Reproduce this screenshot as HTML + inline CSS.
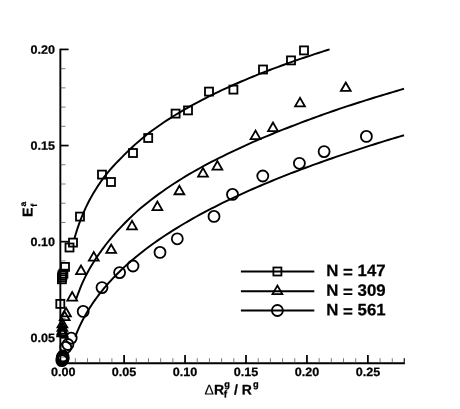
<!DOCTYPE html>
<html><head><meta charset="utf-8"><title>chart</title>
<style>
html,body{margin:0;padding:0;background:#fff;}
body{width:460px;height:409px;overflow:hidden;}
svg{display:block;filter:grayscale(1);}
text{font-family:"Liberation Sans",sans-serif;font-weight:bold;fill:#000;stroke:#000;stroke-width:0.25px;stroke-linejoin:round;}
</style></head><body>
<svg width="460" height="409" viewBox="0 0 460 409">
<rect width="460" height="409" fill="#fff"/>
<g stroke="#000" fill="none">
<line x1="60.35" y1="48.7" x2="60.35" y2="364.05" stroke-width="1.9"/>
<line x1="59.550000000000004" y1="363.25" x2="404.9" y2="363.25" stroke-width="1.85"/>
<line x1="404.3" y1="363.25" x2="404.3" y2="358.2" stroke-width="1.2"/>
<line x1="60.35" y1="49.42" x2="68.6" y2="49.42" stroke-width="1.7"/>
<line x1="60.35" y1="68.65" x2="65.5" y2="68.65" stroke-width="0.7" stroke="#444"/>
<line x1="60.35" y1="87.87" x2="65.5" y2="87.87" stroke-width="0.7" stroke="#444"/>
<line x1="60.35" y1="107.09" x2="65.5" y2="107.09" stroke-width="0.7" stroke="#444"/>
<line x1="60.35" y1="126.32" x2="65.5" y2="126.32" stroke-width="0.7" stroke="#444"/>
<line x1="60.35" y1="145.55" x2="68.6" y2="145.55" stroke-width="1.7"/>
<line x1="60.35" y1="164.77" x2="65.5" y2="164.77" stroke-width="0.7" stroke="#444"/>
<line x1="60.35" y1="184.00" x2="65.5" y2="184.00" stroke-width="0.7" stroke="#444"/>
<line x1="60.35" y1="203.22" x2="65.5" y2="203.22" stroke-width="0.7" stroke="#444"/>
<line x1="60.35" y1="222.44" x2="65.5" y2="222.44" stroke-width="0.7" stroke="#444"/>
<line x1="60.35" y1="241.67" x2="68.6" y2="241.67" stroke-width="1.7"/>
<line x1="60.35" y1="260.90" x2="65.5" y2="260.90" stroke-width="0.7" stroke="#444"/>
<line x1="60.35" y1="280.12" x2="65.5" y2="280.12" stroke-width="0.7" stroke="#444"/>
<line x1="60.35" y1="299.35" x2="65.5" y2="299.35" stroke-width="0.7" stroke="#444"/>
<line x1="60.35" y1="318.57" x2="65.5" y2="318.57" stroke-width="0.7" stroke="#444"/>
<line x1="60.35" y1="337.80" x2="68.6" y2="337.80" stroke-width="1.7"/>
<line x1="60.35" y1="357.02" x2="65.5" y2="357.02" stroke-width="0.7" stroke="#444"/>
<line x1="75.34" y1="363.25" x2="75.34" y2="358.2" stroke-width="0.7" stroke="#444"/>
<line x1="87.53" y1="363.25" x2="87.53" y2="358.2" stroke-width="0.7" stroke="#444"/>
<line x1="99.72" y1="363.25" x2="99.72" y2="358.2" stroke-width="0.7" stroke="#444"/>
<line x1="111.91" y1="363.25" x2="111.91" y2="358.2" stroke-width="0.7" stroke="#444"/>
<line x1="124.10" y1="363.25" x2="124.10" y2="355" stroke-width="1.75"/>
<line x1="136.29" y1="363.25" x2="136.29" y2="358.2" stroke-width="0.7" stroke="#444"/>
<line x1="148.48" y1="363.25" x2="148.48" y2="358.2" stroke-width="0.7" stroke="#444"/>
<line x1="160.67" y1="363.25" x2="160.67" y2="358.2" stroke-width="0.7" stroke="#444"/>
<line x1="172.86" y1="363.25" x2="172.86" y2="358.2" stroke-width="0.7" stroke="#444"/>
<line x1="185.05" y1="363.25" x2="185.05" y2="355" stroke-width="1.75"/>
<line x1="197.24" y1="363.25" x2="197.24" y2="358.2" stroke-width="0.7" stroke="#444"/>
<line x1="209.43" y1="363.25" x2="209.43" y2="358.2" stroke-width="0.7" stroke="#444"/>
<line x1="221.62" y1="363.25" x2="221.62" y2="358.2" stroke-width="0.7" stroke="#444"/>
<line x1="233.81" y1="363.25" x2="233.81" y2="358.2" stroke-width="0.7" stroke="#444"/>
<line x1="246.00" y1="363.25" x2="246.00" y2="355" stroke-width="1.75"/>
<line x1="258.19" y1="363.25" x2="258.19" y2="358.2" stroke-width="0.7" stroke="#444"/>
<line x1="270.38" y1="363.25" x2="270.38" y2="358.2" stroke-width="0.7" stroke="#444"/>
<line x1="282.57" y1="363.25" x2="282.57" y2="358.2" stroke-width="0.7" stroke="#444"/>
<line x1="294.76" y1="363.25" x2="294.76" y2="358.2" stroke-width="0.7" stroke="#444"/>
<line x1="306.95" y1="363.25" x2="306.95" y2="355" stroke-width="1.75"/>
<line x1="319.14" y1="363.25" x2="319.14" y2="358.2" stroke-width="0.7" stroke="#444"/>
<line x1="331.33" y1="363.25" x2="331.33" y2="358.2" stroke-width="0.7" stroke="#444"/>
<line x1="343.52" y1="363.25" x2="343.52" y2="358.2" stroke-width="0.7" stroke="#444"/>
<line x1="355.71" y1="363.25" x2="355.71" y2="358.2" stroke-width="0.7" stroke="#444"/>
<line x1="367.90" y1="363.25" x2="367.90" y2="355" stroke-width="1.75"/>
<line x1="380.09" y1="363.25" x2="380.09" y2="358.2" stroke-width="0.7" stroke="#444"/>
<line x1="392.28" y1="363.25" x2="392.28" y2="358.2" stroke-width="0.7" stroke="#444"/>
<line x1="404.47" y1="363.25" x2="404.47" y2="358.2" stroke-width="0.7" stroke="#444"/>
</g>
<g stroke="#000" fill="none" stroke-width="1.95" stroke-linecap="butt" stroke-linejoin="round">
<path d="M74.45,238.52 L75.22,235.80 L75.99,233.21 L76.76,230.73 L77.53,228.36 L78.30,226.09 L79.07,223.90 L79.83,221.80 L80.60,219.77 L81.37,217.80 L82.14,215.90 L82.91,214.06 L83.68,212.27 L84.45,210.53 L85.22,208.84 L85.99,207.20 L86.76,205.60 L87.53,204.04 L88.30,202.51 L89.07,201.02 L89.83,199.57 L90.60,198.14 L91.37,196.75 L92.14,195.39 L92.91,194.05 L93.68,192.75 L94.45,191.46 L95.22,190.20 L95.99,188.97 L96.76,187.75 L97.53,186.56 L98.30,185.39 L99.07,184.23 L99.83,183.10 L100.60,181.99 L101.37,180.89 L102.14,179.81 L102.91,178.74 L103.68,177.70 L104.45,176.66 L107.30,173.08 L110.15,169.72 L113.00,166.51 L115.85,163.45 L118.70,160.52 L121.55,157.59 L124.40,154.66 L127.25,151.84 L130.10,149.10 L132.95,146.46 L135.80,143.89 L138.65,141.40 L141.50,138.98 L144.35,136.63 L147.20,134.34 L150.05,132.10 L152.90,130.00 L155.75,127.94 L158.60,125.94 L161.45,123.98 L164.30,122.06 L167.15,120.19 L170.00,118.35 L172.85,116.55 L175.70,114.79 L178.55,113.06 L181.40,111.37 L184.25,109.71 L187.10,108.08 L189.95,106.47 L192.80,104.90 L195.65,103.35 L198.50,101.82 L201.35,100.32 L204.20,98.85 L207.05,97.40 L209.90,95.97 L212.75,94.56 L215.60,93.17 L218.45,91.80 L221.30,90.46 L224.15,89.13 L227.00,87.82 L229.85,86.52 L232.70,85.25 L235.55,83.99 L238.40,82.74 L241.25,81.51 L244.10,80.30 L246.95,79.10 L249.80,77.92 L252.65,76.75 L255.50,75.59 L258.35,74.45 L261.20,73.32 L264.05,72.20 L266.90,71.10 L269.75,70.00 L272.60,68.92 L275.45,67.85 L278.30,66.79 L281.15,65.75 L284.00,64.71 L286.85,63.68 L289.70,62.66 L292.55,61.66 L295.40,60.66 L298.25,59.67 L301.10,58.69 L303.95,57.72 L306.80,56.76 L309.65,55.81 L312.50,54.87 L315.35,53.93 L318.20,53.00 L321.05,52.08 L323.90,51.17 L326.75,50.27 L329.60,49.37"/>
<path d="M76.30,298.79 L77.07,296.53 L77.84,294.37 L78.61,292.29 L79.38,290.28 L80.15,288.35 L80.92,286.47 L81.68,284.65 L82.45,282.90 L83.22,281.21 L83.99,279.56 L84.76,277.95 L85.53,276.39 L86.30,274.87 L87.07,273.38 L87.84,271.93 L88.61,270.52 L89.38,269.13 L90.15,267.78 L90.92,266.46 L91.68,265.16 L92.45,263.90 L93.22,262.65 L93.99,261.44 L94.76,260.24 L95.53,259.07 L96.30,257.91 L97.07,256.78 L97.84,255.67 L98.61,254.57 L99.38,253.49 L100.15,252.42 L100.92,251.32 L101.68,250.24 L102.45,249.17 L103.22,248.11 L103.99,247.07 L104.76,246.05 L105.53,245.03 L106.30,244.03 L110.07,239.32 L113.84,234.86 L117.61,230.64 L121.37,226.60 L125.14,222.70 L128.91,218.96 L132.68,215.36 L136.45,211.90 L140.22,208.58 L143.98,205.44 L147.75,202.41 L151.52,199.47 L155.29,196.63 L159.06,193.87 L162.83,191.18 L166.59,188.57 L170.36,186.02 L174.13,183.54 L177.90,181.12 L181.67,178.76 L185.44,176.45 L189.20,174.19 L192.97,172.00 L196.74,169.86 L200.51,167.76 L204.28,165.71 L208.05,163.70 L211.81,161.72 L215.58,159.78 L219.35,157.88 L223.12,156.01 L226.89,154.17 L230.66,152.36 L234.42,150.56 L238.19,148.79 L241.96,147.05 L245.73,145.34 L249.50,143.65 L253.27,141.98 L257.03,140.34 L260.80,138.72 L264.57,137.13 L268.34,135.55 L272.11,134.00 L275.88,132.47 L279.64,130.95 L283.41,129.46 L287.18,127.98 L290.95,126.52 L294.72,125.06 L298.49,123.61 L302.25,122.18 L306.02,120.77 L309.79,119.37 L313.56,117.98 L317.33,116.62 L321.10,115.26 L324.86,113.92 L328.63,112.60 L332.40,111.28 L336.17,109.98 L339.94,108.70 L343.71,107.44 L347.47,106.19 L351.24,104.96 L355.01,103.74 L358.78,102.53 L362.55,101.33 L366.32,100.14 L370.08,98.96 L373.85,97.79 L377.62,96.63 L381.39,95.49 L385.16,94.35 L388.93,93.22 L392.69,92.10 L396.46,90.99 L400.23,89.89 L404.00,88.80"/>
<path d="M75.30,336.54 L76.07,334.57 L76.84,332.67 L77.61,330.83 L78.38,329.06 L79.15,327.35 L79.92,325.69 L80.68,324.09 L81.45,322.52 L82.22,321.00 L82.99,319.52 L83.76,318.08 L84.53,316.67 L85.30,315.29 L86.07,313.94 L86.84,312.61 L87.61,311.31 L88.38,310.04 L89.15,308.79 L89.92,307.57 L90.68,306.37 L91.45,305.19 L92.22,304.04 L92.99,302.90 L93.76,301.78 L94.53,300.68 L95.30,299.60 L96.07,298.54 L96.84,297.49 L97.61,296.46 L98.38,295.44 L99.15,294.43 L99.92,293.44 L100.68,292.46 L101.45,291.49 L102.22,290.53 L102.99,289.58 L103.76,288.65 L104.53,287.72 L105.30,286.81 L109.08,282.48 L112.86,278.37 L116.64,274.46 L120.42,270.73 L124.21,267.16 L127.99,263.73 L131.77,260.43 L135.55,257.24 L139.33,254.17 L143.11,251.19 L146.89,248.30 L150.67,245.50 L154.45,242.77 L158.23,240.12 L162.02,237.54 L165.80,235.02 L169.58,232.56 L173.36,230.15 L177.14,227.80 L180.92,225.50 L184.70,223.25 L188.48,221.05 L192.26,218.89 L196.04,216.76 L199.83,214.68 L203.61,212.65 L207.39,210.65 L211.17,208.69 L214.95,206.76 L218.73,204.86 L222.51,202.99 L226.29,201.15 L230.07,199.34 L233.85,197.55 L237.64,195.79 L241.42,194.06 L245.20,192.35 L248.98,190.67 L252.76,189.00 L256.54,187.36 L260.32,185.74 L264.10,184.14 L267.88,182.56 L271.66,181.00 L275.45,179.45 L279.23,177.93 L283.01,176.42 L286.79,174.93 L290.57,173.46 L294.35,172.00 L298.13,170.56 L301.91,169.13 L305.69,167.72 L309.47,166.32 L313.26,164.94 L317.04,163.57 L320.82,162.21 L324.60,160.87 L328.38,159.54 L332.16,158.23 L335.94,156.92 L339.72,155.63 L343.50,154.35 L347.28,153.08 L351.07,151.82 L354.85,150.57 L358.63,149.33 L362.41,148.10 L366.19,146.88 L369.97,145.68 L373.75,144.48 L377.53,143.29 L381.31,142.11 L385.09,140.94 L388.88,139.78 L392.66,138.63 L396.44,137.49 L400.22,136.35 L404.00,135.23"/>
</g>
<g stroke="#000" fill="none" stroke-width="1.95">
<line x1="240.9" y1="271.5" x2="314.3" y2="271.5"/>
<line x1="240.9" y1="291.2" x2="314.3" y2="291.2"/>
<line x1="240.9" y1="310.5" x2="314.3" y2="310.5"/>
</g>
<g stroke="#000" fill="none" stroke-width="1.8" stroke-linejoin="miter">
<rect x="300.00" y="46.40" width="8.0" height="8.0"/>
<rect x="287.00" y="56.40" width="8.0" height="8.0"/>
<rect x="259.00" y="65.50" width="8.0" height="8.0"/>
<rect x="229.40" y="85.60" width="8.0" height="8.0"/>
<rect x="205.00" y="87.60" width="8.0" height="8.0"/>
<rect x="184.00" y="106.40" width="8.0" height="8.0"/>
<rect x="171.60" y="109.60" width="8.0" height="8.0"/>
<rect x="144.20" y="134.00" width="8.0" height="8.0"/>
<rect x="129.00" y="149.00" width="8.0" height="8.0"/>
<rect x="107.00" y="178.00" width="8.0" height="8.0"/>
<rect x="98.00" y="170.60" width="8.0" height="8.0"/>
<rect x="76.00" y="212.60" width="8.0" height="8.0"/>
<rect x="69.00" y="238.60" width="8.0" height="8.0"/>
<rect x="65.50" y="243.50" width="8.0" height="8.0"/>
<rect x="61.00" y="262.90" width="8.0" height="8.0"/>
<rect x="59.40" y="269.70" width="8.0" height="8.0"/>
<rect x="58.40" y="271.30" width="8.0" height="8.0"/>
<rect x="58.00" y="273.30" width="8.0" height="8.0"/>
<rect x="57.90" y="275.30" width="8.0" height="8.0"/>
<rect x="56.30" y="299.90" width="8.0" height="8.0"/>
<rect x="273.40" y="267.50" width="8.0" height="8.0"/>
<polygon points="345.80,82.45 340.90,90.95 350.70,90.95"/>
<polygon points="300.00,97.85 295.10,106.35 304.90,106.35"/>
<polygon points="273.00,122.55 268.10,131.05 277.90,131.05"/>
<polygon points="255.50,130.65 250.60,139.15 260.40,139.15"/>
<polygon points="217.40,161.05 212.50,169.55 222.30,169.55"/>
<polygon points="203.00,168.05 198.10,176.55 207.90,176.55"/>
<polygon points="179.40,185.75 174.50,194.25 184.30,194.25"/>
<polygon points="157.40,201.55 152.50,210.05 162.30,210.05"/>
<polygon points="132.00,220.85 127.10,229.35 136.90,229.35"/>
<polygon points="111.20,244.45 106.30,252.95 116.10,252.95"/>
<polygon points="93.80,252.05 88.90,260.55 98.70,260.55"/>
<polygon points="81.00,265.55 76.10,274.05 85.90,274.05"/>
<polygon points="72.20,292.05 67.30,300.55 77.10,300.55"/>
<polygon points="66.00,307.85 61.10,316.35 70.90,316.35"/>
<polygon points="64.70,311.65 59.80,320.15 69.60,320.15"/>
<polygon points="62.40,318.95 57.50,327.45 67.30,327.45"/>
<polygon points="62.40,322.35 57.50,330.85 67.30,330.85"/>
<polygon points="62.40,325.25 57.50,333.75 67.30,333.75"/>
<polygon points="62.30,327.05 57.40,335.55 67.20,335.55"/>
<polygon points="62.40,327.75 57.50,336.25 67.30,336.25"/>
<polygon points="277.40,285.65 272.50,294.15 282.30,294.15"/>
<circle cx="366.40" cy="136.40" r="5.5"/>
<circle cx="324.10" cy="151.60" r="5.5"/>
<circle cx="299.40" cy="163.30" r="5.5"/>
<circle cx="262.80" cy="176.00" r="5.5"/>
<circle cx="232.50" cy="194.40" r="5.5"/>
<circle cx="214.00" cy="216.40" r="5.5"/>
<circle cx="177.30" cy="238.80" r="5.5"/>
<circle cx="160.00" cy="252.40" r="5.5"/>
<circle cx="133.00" cy="266.00" r="5.5"/>
<circle cx="119.60" cy="272.60" r="5.5"/>
<circle cx="102.00" cy="287.60" r="5.5"/>
<circle cx="83.20" cy="311.40" r="5.5"/>
<circle cx="71.20" cy="338.10" r="5.5"/>
<circle cx="67.90" cy="344.50" r="5.5"/>
<circle cx="65.80" cy="347.40" r="5.5"/>
<circle cx="62.90" cy="356.00" r="5.5"/>
<circle cx="62.50" cy="357.20" r="5.5"/>
<circle cx="63.30" cy="357.80" r="5.5"/>
<circle cx="62.00" cy="358.60" r="5.5"/>
<circle cx="62.90" cy="359.40" r="5.5"/>
<circle cx="61.80" cy="360.60" r="5.5"/>
<circle cx="277.40" cy="310.50" r="5.5"/>
</g>
<g font-size="12.1px">
<text transform="translate(54.95,53.72) rotate(0.03) scale(1.04,1)" text-anchor="end">0.20</text>
<text transform="translate(54.95,149.85) rotate(0.03) scale(1.04,1)" text-anchor="end">0.15</text>
<text transform="translate(54.95,245.97) rotate(0.03) scale(1.04,1)" text-anchor="end">0.10</text>
<text transform="translate(54.95,342.10) rotate(0.03) scale(1.04,1)" text-anchor="end">0.05</text>
<text transform="translate(63.15,376.05) rotate(0.03) scale(1.04,1)" text-anchor="middle">0.00</text>
<text transform="translate(124.10,376.05) rotate(0.03) scale(1.04,1)" text-anchor="middle">0.05</text>
<text transform="translate(185.05,376.05) rotate(0.03) scale(1.04,1)" text-anchor="middle">0.10</text>
<text transform="translate(246.00,376.05) rotate(0.03) scale(1.04,1)" text-anchor="middle">0.15</text>
<text transform="translate(306.95,376.05) rotate(0.03) scale(1.04,1)" text-anchor="middle">0.20</text>
<text transform="translate(367.90,376.05) rotate(0.03) scale(1.04,1)" text-anchor="middle">0.25</text>
</g>
<g font-size="16.4px">
<text transform="translate(326.3,276.0) rotate(0.03) scale(1.025,1)">N</text>
<text transform="translate(343.1,277.60) rotate(0.03) scale(1.025,1)">=</text>
<text transform="translate(357.6,276.0) rotate(0.03) scale(1.025,1)">147</text>
<text transform="translate(326.3,295.7) rotate(0.03) scale(1.025,1)">N</text>
<text transform="translate(343.1,297.30) rotate(0.03) scale(1.025,1)">=</text>
<text transform="translate(357.6,295.7) rotate(0.03) scale(1.025,1)">309</text>
<text transform="translate(326.3,315.2) rotate(0.03) scale(1.025,1)">N</text>
<text transform="translate(343.1,316.80) rotate(0.03) scale(1.025,1)">=</text>
<text transform="translate(357.6,315.2) rotate(0.03) scale(1.025,1)">561</text>
</g>
<text transform="translate(204.6,394.4) rotate(0.03)" font-size="14px"><tspan font-weight="normal" stroke-width="0.1">Δ</tspan>R</text>
<text transform="translate(224.2,387.3) rotate(0.03)" font-size="9.3px">g</text>
<text transform="translate(223.8,397.6) rotate(0.03)" font-size="10px">f</text>
<text transform="translate(234,394.4) rotate(0.03)" font-size="14px">/ R</text>
<text transform="translate(252.9,387.3) rotate(0.03)" font-size="9.3px">g</text>
<g transform="translate(32.6,216) rotate(-89.97)"><text x="-0.9" y="0" font-size="14.2px">E</text><text x="9.5" y="-6.6" font-size="8.6px">a</text><text x="9.3" y="4.5" font-size="8.7px">f</text></g>
</svg></body></html>
